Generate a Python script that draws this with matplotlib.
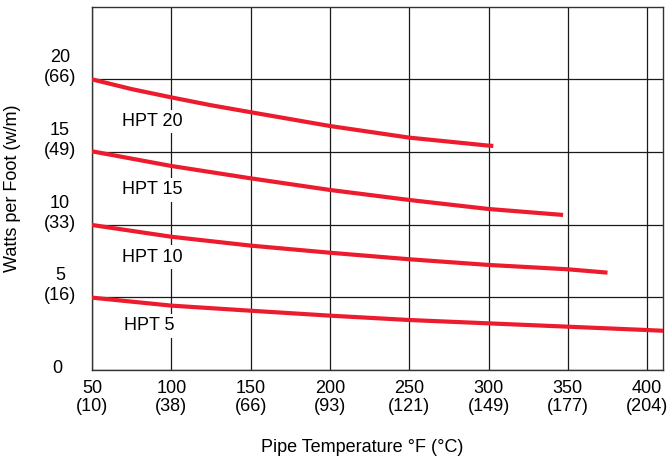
import matplotlib
matplotlib.use("Agg")
import matplotlib.pyplot as plt

plt.rcParams['font.family'] = ['Liberation Sans', 'DejaVu Sans']

# Data
hpt20_x = [50, 75, 100, 125, 150, 200, 250, 300, 303]
hpt20_y = [20.0, 19.33, 18.76, 18.22, 17.74, 16.79, 15.99, 15.44, 15.42]

hpt15_x = [50, 100, 150, 200, 250, 300, 347]
hpt15_y = [15.05, 14.04, 13.19, 12.39, 11.70, 11.08, 10.67]

hpt10_x = [50, 100, 150, 200, 250, 300, 350, 375]
hpt10_y = [9.98, 9.17, 8.56, 8.07, 7.62, 7.23, 6.93, 6.70]

hpt5_x = [50, 100, 150, 200, 250, 300, 350, 400, 410]
hpt5_y = [4.98, 4.43, 4.08, 3.74, 3.44, 3.21, 2.98, 2.75, 2.70]

series_names = ["HPT 20", "HPT 15", "HPT 10", "HPT 5"]
label_x = [88, 88, 88, 86]
label_y = [17.1, 12.4, 7.75, 3.05]

x_ticks = [50, 100, 150, 200, 250, 300, 350, 400]
x_tick_labels = ["50\n(10)", "100\n(38)", "150\n(66)", "200\n(93)", "250\n(121)",
                 "300\n(149)", "350\n(177)", "400\n(204)"]
y_ticks = [0, 5, 10, 15, 20]
y_tick_top = ["0", "5", "10", "15", "20"]
y_tick_bottom = ["", "(16)", "(33)", "(49)", "(66)"]

RED = '#ec1c2e'
GRID = '#1a1a1a'
FS = 13

fig = plt.figure(figsize=(6.69, 4.61), dpi=100)
ax = fig.add_axes([92/669, (461-370)/461, (663-92)/669, (370-6.7)/461])

ax.set_xlim(50, 410)
ax.set_ylim(0, 25)

for xs, ys in [(hpt20_x, hpt20_y), (hpt15_x, hpt15_y), (hpt10_x, hpt10_y), (hpt5_x, hpt5_y)]:
    ax.plot(xs, ys, color=RED, lw=3.0, solid_capstyle='butt', zorder=3)

ax.set_xticks(x_ticks)
ax.set_xticklabels(x_tick_labels, fontsize=FS, linespacing=1.05)
ax.set_yticks(y_ticks)
ax.set_yticklabels([])
ax.tick_params(axis='both', length=0)
ax.tick_params(axis='x', pad=7.5)

ax.grid(True, color=GRID, lw=0.9, zorder=1)
ax.set_axisbelow(True)
for s in ax.spines.values():
    s.set_color('#333333')
    s.set_linewidth(1.0)

# y tick labels: bottom line centred on gridline, top line above
for v, top, bot in zip(y_ticks, y_tick_top, y_tick_bottom):
    if bot:
        ax.annotate(bot, xy=(0, v), xycoords=('axes fraction', 'data'),
                    xytext=(-23, 1), textcoords='offset points',
                    ha='center', va='center', fontsize=FS)
        ax.annotate(top, xy=(0, v), xycoords=('axes fraction', 'data'),
                    xytext=(-23, 15.5), textcoords='offset points',
                    ha='center', va='center', fontsize=FS)
    else:
        ax.annotate(top, xy=(0, v), xycoords=('axes fraction', 'data'),
                    xytext=(-25, 1), textcoords='offset points',
                    ha='center', va='center', fontsize=FS)

for name, lx, ly in zip(series_names, label_x, label_y):
    ax.text(lx, ly, name, fontsize=FS, ha='center', va='center', zorder=2,
            bbox=dict(fc='white', ec='none', pad=2.5))

fig.text(362/669, 1 - 447/461, "Pipe Temperature °F (°C)", ha='center', va='center', fontsize=FS)
fig.text(13/669, 1 - 188/461, "Watts per Foot (w/m)", ha='center', va='center',
         rotation=90, fontsize=FS)

fig.savefig("out.png", dpi=100)
